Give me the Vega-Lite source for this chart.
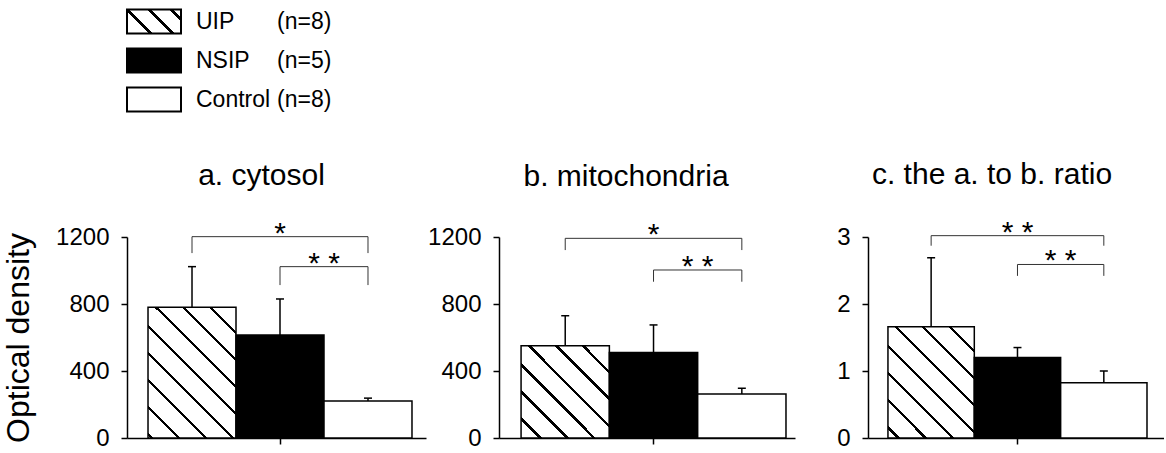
{
  "$schema": "https://vega.github.io/schema/vega-lite/v6.json",
  "padding": {"left": 2, "top": 2, "right": 0, "bottom": 5},
  "background": "white",
  "config": {
    "font": "Liberation Sans",
    "view": {"stroke": null},
    "axis": {"labelFont": "Liberation Sans", "labelFontSize": 24, "labelColor": "black", "domainColor": "black", "tickColor": "black", "domainWidth": 1.5, "tickWidth": 1.5, "tickSize": 6, "labelPadding": 12, "grid": false, "titleFont": "Liberation Sans", "titleFontWeight": "normal", "titleColor": "black"},
    "title": {"font": "Liberation Sans", "fontSize": 30, "fontWeight": "normal", "color": "black", "baseline": "alphabetic", "offset": 28, "frame": "group"},
    "text": {"font": "Liberation Sans", "color": "black"}
  },
  "datasets": {
    "bars": [
      {"p": "a", "g": "UIP", "v": 780, "hi": 1023},
      {"p": "a", "g": "NSIP", "v": 615, "hi": 830},
      {"p": "a", "g": "Control", "v": 221, "hi": 238},
      {"p": "b", "g": "UIP", "v": 551, "hi": 730},
      {"p": "b", "g": "NSIP", "v": 511, "hi": 675},
      {"p": "b", "g": "Control", "v": 263, "hi": 297},
      {"p": "c", "g": "UIP", "v": 1.66, "hi": 2.69},
      {"p": "c", "g": "NSIP", "v": 1.2, "hi": 1.35},
      {"p": "c", "g": "Control", "v": 0.825, "hi": 1.0}
    ],
    "brk": [
      {"p": "a", "k": 1, "g": "UIP", "v": 1202, "v2": 1104},
      {"p": "a", "k": 1, "g": "Control", "v": 1202, "v2": 1104},
      {"p": "a", "k": 2, "g": "NSIP", "v": 1023, "v2": 913},
      {"p": "a", "k": 2, "g": "Control", "v": 1023, "v2": 913},
      {"p": "b", "k": 1, "g": "UIP", "v": 1192, "v2": 1122},
      {"p": "b", "k": 1, "g": "Control", "v": 1192, "v2": 1122},
      {"p": "b", "k": 2, "g": "NSIP", "v": 1003, "v2": 933},
      {"p": "b", "k": 2, "g": "Control", "v": 1003, "v2": 933},
      {"p": "c", "k": 1, "g": "UIP", "v": 3.02, "v2": 2.87},
      {"p": "c", "k": 1, "g": "Control", "v": 3.02, "v2": 2.87},
      {"p": "c", "k": 2, "g": "NSIP", "v": 2.59, "v2": 2.42},
      {"p": "c", "k": 2, "g": "Control", "v": 2.59, "v2": 2.42}
    ],
    "lab": [
      {"p": "a", "k": 1, "g": "NSIP", "v": 1202, "t": "*"},
      {"p": "a", "k": 2, "g": "NSIP", "v": 1023, "t": "* *"},
      {"p": "b", "k": 1, "g": "NSIP", "v": 1192, "t": "*"},
      {"p": "b", "k": 2, "g": "NSIP", "v": 1003, "t": "* *"},
      {"p": "c", "k": 1, "g": "NSIP", "v": 3.02, "t": "* *"},
      {"p": "c", "k": 2, "g": "NSIP", "v": 2.59, "t": "* *"}
    ],
    "leg": [
      {"g": "UIP", "n": "(n=8)"},
      {"g": "NSIP", "n": "(n=5)"},
      {"g": "Control", "n": "(n=8)"}
    ]
  },
  "spacing": 118,
  "bounds": "flush",
  "vconcat": [
    {
      "width": 299,
      "height": 117,
      "data": {"name": "leg"},
      "encoding": {"y": {"field": "g", "type": "nominal", "scale": {"domain": ["UIP", "NSIP", "Control"], "paddingInner": 0.385, "paddingOuter": 0.1925}, "axis": null}},
      "layer": [
        {
          "mark": {"type": "rect", "stroke": "black", "strokeWidth": 2},
          "encoding": {
            "x": {"datum": 0, "type": "quantitative", "scale": {"domain": [0, 299], "nice": false}, "axis": null},
            "x2": {"datum": 54},
            "fill": {
              "condition": [
                {"test": "datum.g === 'UIP'", "value": {"gradient": "linear", "x1": 0, "y1": 1, "x2": 1.25, "y2": 0.444, "stops": [
                  {"offset": 0, "color": "white"},
                  {"offset": 0.277, "color": "white"}, {"offset": 0.277, "color": "black"}, {"offset": 0.317, "color": "black"}, {"offset": 0.317, "color": "white"},
                  {"offset": 0.549, "color": "white"}, {"offset": 0.549, "color": "black"}, {"offset": 0.589, "color": "black"}, {"offset": 0.589, "color": "white"},
                  {"offset": 0.822, "color": "white"}, {"offset": 0.822, "color": "black"}, {"offset": 0.862, "color": "black"}, {"offset": 0.862, "color": "white"},
                  {"offset": 1, "color": "white"}
                ]}},
                {"test": "datum.g === 'NSIP'", "value": "black"}
              ],
              "value": "white"
            }
          }
        },
        {
          "mark": {"type": "text", "align": "left", "baseline": "middle", "fontSize": 23},
          "encoding": {"x": {"datum": 69, "type": "quantitative"}, "text": {"field": "g"}}
        },
        {
          "mark": {"type": "text", "align": "left", "baseline": "middle", "fontSize": 23},
          "encoding": {"x": {"datum": 150, "type": "quantitative"}, "text": {"field": "n"}}
        }
      ]
    },
    {
      "hconcat": [
        {
          "width": 299,
          "height": 201,
          "title": {"text": "a. cytosol", "dx": -15},
          "layer": [
            {
              "data": {"name": "bars"},
              "transform": [{"filter": "datum.p === 'a'"}],
              "mark": {"type": "bar", "stroke": "black", "strokeWidth": 1.5},
              "encoding": {
                "x": {"field": "g", "type": "nominal", "scale": {"type": "band", "domain": ["UIP", "NSIP", "Control"], "paddingInner": 0, "paddingOuter": 0.199, "align": 0.6}, "axis": {"values": ["NSIP"], "labels": false, "title": null}},
                "y": {"field": "v", "type": "quantitative", "scale": {"domain": [0, 1200], "nice": false}, "axis": {"values": [0, 200, 400, 600, 800, 1000, 1200], "labelExpr": "datum.value % 400 === 0 ? '' + datum.value : ''", "title": "Optical density", "titleFontSize": 32, "titlePadding": 20}},
                "fill": {
                  "condition": [
                    {"test": "datum.g === 'UIP'", "value": {"gradient": "linear", "x1": 0, "y1": 1, "x2": 1, "y2": -0.489, "stops": [
                      {"offset": 0, "color": "white"},
                      {"offset": 0.0081, "color": "white"}, {"offset": 0.0081, "color": "black"}, {"offset": 0.0201, "color": "black"}, {"offset": 0.0201, "color": "white"},
                      {"offset": 0.1035, "color": "white"}, {"offset": 0.1035, "color": "black"}, {"offset": 0.1155, "color": "black"}, {"offset": 0.1155, "color": "white"},
                      {"offset": 0.1989, "color": "white"}, {"offset": 0.1989, "color": "black"}, {"offset": 0.2109, "color": "black"}, {"offset": 0.2109, "color": "white"},
                      {"offset": 0.2944, "color": "white"}, {"offset": 0.2944, "color": "black"}, {"offset": 0.3064, "color": "black"}, {"offset": 0.3064, "color": "white"},
                      {"offset": 0.3898, "color": "white"}, {"offset": 0.3898, "color": "black"}, {"offset": 0.4018, "color": "black"}, {"offset": 0.4018, "color": "white"},
                      {"offset": 0.4852, "color": "white"}, {"offset": 0.4852, "color": "black"}, {"offset": 0.4972, "color": "black"}, {"offset": 0.4972, "color": "white"},
                      {"offset": 0.5806, "color": "white"}, {"offset": 0.5806, "color": "black"}, {"offset": 0.5926, "color": "black"}, {"offset": 0.5926, "color": "white"},
                      {"offset": 0.676, "color": "white"}, {"offset": 0.676, "color": "black"}, {"offset": 0.688, "color": "black"}, {"offset": 0.688, "color": "white"},
                      {"offset": 1, "color": "white"}
                    ]}},
                    {"test": "datum.g === 'NSIP'", "value": "black"}
                  ],
                  "value": "white"
                }
              }
            },
            {
              "data": {"name": "bars"},
              "transform": [{"filter": "datum.p === 'a'"}],
              "mark": {"type": "rule", "color": "black", "strokeWidth": 1.5},
              "encoding": {"x": {"field": "g", "type": "nominal"}, "y": {"field": "v", "type": "quantitative"}, "y2": {"field": "hi"}}
            },
            {
              "data": {"name": "bars"},
              "transform": [{"filter": "datum.p === 'a'"}],
              "mark": {"type": "tick", "orient": "horizontal", "size": 8, "thickness": 1.5, "color": "black", "opacity": 1},
              "encoding": {"x": {"field": "g", "type": "nominal"}, "y": {"field": "hi", "type": "quantitative"}}
            },
            {
              "data": {"name": "brk"},
              "transform": [{"filter": "datum.p === 'a'"}],
              "mark": {"type": "line", "color": "#333", "strokeWidth": 1},
              "encoding": {"x": {"field": "g", "type": "nominal"}, "y": {"field": "v", "type": "quantitative"}, "detail": {"field": "k"}}
            },
            {
              "data": {"name": "brk"},
              "transform": [{"filter": "datum.p === 'a'"}],
              "mark": {"type": "rule", "color": "#333", "strokeWidth": 1},
              "encoding": {"x": {"field": "g", "type": "nominal"}, "y": {"field": "v", "type": "quantitative"}, "y2": {"field": "v2"}}
            },
            {
              "data": {"name": "lab"},
              "transform": [{"filter": "datum.p === 'a' && datum.k === 1"}],
              "mark": {"type": "text", "fontSize": 30, "baseline": "alphabetic", "dy": 6},
              "encoding": {"x": {"field": "g", "type": "nominal"}, "y": {"field": "v", "type": "quantitative"}, "text": {"field": "t"}}
            },
            {
              "data": {"name": "lab"},
              "transform": [{"filter": "datum.p === 'a' && datum.k === 2"}],
              "mark": {"type": "text", "fontSize": 30, "baseline": "alphabetic", "dy": 6},
              "encoding": {"x": {"field": "g", "type": "nominal", "bandPosition": 1}, "y": {"field": "v", "type": "quantitative"}, "text": {"field": "t"}}
            }
          ]
        },
        {
          "width": 296,
          "height": 201,
          "title": {"text": "b. mitochondria", "dx": -21},
          "layer": [
            {
              "data": {"name": "bars"},
              "transform": [{"filter": "datum.p === 'b'"}],
              "mark": {"type": "bar", "stroke": "black", "strokeWidth": 1.5},
              "encoding": {
                "x": {"field": "g", "type": "nominal", "scale": {"type": "band", "domain": ["UIP", "NSIP", "Control"], "paddingInner": 0, "paddingOuter": 0.176, "align": 0.71}, "axis": {"values": ["NSIP"], "labels": false, "title": null}},
                "y": {"field": "v", "type": "quantitative", "scale": {"domain": [0, 1200], "nice": false}, "axis": {"values": [0, 200, 400, 600, 800, 1000, 1200], "labelExpr": "datum.value % 400 === 0 ? '' + datum.value : ''", "title": null}},
                "fill": {
                  "condition": [
                    {"test": "datum.g === 'UIP'", "value": {"gradient": "linear", "x1": 0, "y1": 1, "x2": 1, "y2": -0.045, "stops": [
                      {"offset": 0, "color": "white"},
                      {"offset": 0.0954, "color": "white"}, {"offset": 0.0954, "color": "black"}, {"offset": 0.1134, "color": "black"}, {"offset": 0.1134, "color": "white"},
                      {"offset": 0.2415, "color": "white"}, {"offset": 0.2415, "color": "black"}, {"offset": 0.2595, "color": "black"}, {"offset": 0.2595, "color": "white"},
                      {"offset": 0.3876, "color": "white"}, {"offset": 0.3876, "color": "black"}, {"offset": 0.4056, "color": "black"}, {"offset": 0.4056, "color": "white"},
                      {"offset": 0.5337, "color": "white"}, {"offset": 0.5337, "color": "black"}, {"offset": 0.5517, "color": "black"}, {"offset": 0.5517, "color": "white"},
                      {"offset": 0.6799, "color": "white"}, {"offset": 0.6799, "color": "black"}, {"offset": 0.6979, "color": "black"}, {"offset": 0.6979, "color": "white"},
                      {"offset": 0.826, "color": "white"}, {"offset": 0.826, "color": "black"}, {"offset": 0.844, "color": "black"}, {"offset": 0.844, "color": "white"},
                      {"offset": 1, "color": "white"}
                    ]}},
                    {"test": "datum.g === 'NSIP'", "value": "black"}
                  ],
                  "value": "white"
                }
              }
            },
            {
              "data": {"name": "bars"},
              "transform": [{"filter": "datum.p === 'b'"}],
              "mark": {"type": "rule", "color": "black", "strokeWidth": 1.5},
              "encoding": {"x": {"field": "g", "type": "nominal"}, "y": {"field": "v", "type": "quantitative"}, "y2": {"field": "hi"}}
            },
            {
              "data": {"name": "bars"},
              "transform": [{"filter": "datum.p === 'b'"}],
              "mark": {"type": "tick", "orient": "horizontal", "size": 8, "thickness": 1.5, "color": "black", "opacity": 1},
              "encoding": {"x": {"field": "g", "type": "nominal"}, "y": {"field": "hi", "type": "quantitative"}}
            },
            {
              "data": {"name": "brk"},
              "transform": [{"filter": "datum.p === 'b'"}],
              "mark": {"type": "line", "color": "#333", "strokeWidth": 1},
              "encoding": {"x": {"field": "g", "type": "nominal"}, "y": {"field": "v", "type": "quantitative"}, "detail": {"field": "k"}}
            },
            {
              "data": {"name": "brk"},
              "transform": [{"filter": "datum.p === 'b'"}],
              "mark": {"type": "rule", "color": "#333", "strokeWidth": 1},
              "encoding": {"x": {"field": "g", "type": "nominal"}, "y": {"field": "v", "type": "quantitative"}, "y2": {"field": "v2"}}
            },
            {
              "data": {"name": "lab"},
              "transform": [{"filter": "datum.p === 'b' && datum.k === 1"}],
              "mark": {"type": "text", "fontSize": 30, "baseline": "alphabetic", "dy": 6},
              "encoding": {"x": {"field": "g", "type": "nominal"}, "y": {"field": "v", "type": "quantitative"}, "text": {"field": "t"}}
            },
            {
              "data": {"name": "lab"},
              "transform": [{"filter": "datum.p === 'b' && datum.k === 2"}],
              "mark": {"type": "text", "fontSize": 30, "baseline": "alphabetic", "dy": 6},
              "encoding": {"x": {"field": "g", "type": "nominal", "bandPosition": 1}, "y": {"field": "v", "type": "quantitative"}, "text": {"field": "t"}}
            }
          ]
        },
        {
          "width": 296,
          "height": 201,
          "title": {"text": "c. the a. to b. ratio", "dx": -24},
          "layer": [
            {
              "data": {"name": "bars"},
              "transform": [{"filter": "datum.p === 'c'"}],
              "mark": {"type": "bar", "stroke": "black", "strokeWidth": 1.5},
              "encoding": {
                "x": {"field": "g", "type": "nominal", "scale": {"type": "band", "domain": ["UIP", "NSIP", "Control"], "paddingInner": 0, "paddingOuter": 0.214, "align": 0.54}, "axis": {"values": ["NSIP"], "labels": false, "title": null}},
                "y": {"field": "v", "type": "quantitative", "scale": {"domain": [0, 3], "nice": false}, "axis": {"values": [0, 0.25, 0.5, 0.75, 1, 1.25, 1.5, 1.75, 2, 2.25, 2.5, 2.75, 3], "labelExpr": "datum.value % 1 === 0 ? '' + datum.value : ''", "title": null}},
                "fill": {
                  "condition": [
                    {"test": "datum.g === 'UIP'", "value": {"gradient": "linear", "x1": 0, "y1": 1, "x2": 1, "y2": -0.283, "stops": [
                      {"offset": 0, "color": "white"},
                      {"offset": 0.0394, "color": "white"}, {"offset": 0.0394, "color": "black"}, {"offset": 0.0544, "color": "black"}, {"offset": 0.0544, "color": "white"},
                      {"offset": 0.1576, "color": "white"}, {"offset": 0.1576, "color": "black"}, {"offset": 0.1726, "color": "black"}, {"offset": 0.1726, "color": "white"},
                      {"offset": 0.2759, "color": "white"}, {"offset": 0.2759, "color": "black"}, {"offset": 0.2909, "color": "black"}, {"offset": 0.2909, "color": "white"},
                      {"offset": 0.3942, "color": "white"}, {"offset": 0.3942, "color": "black"}, {"offset": 0.4092, "color": "black"}, {"offset": 0.4092, "color": "white"},
                      {"offset": 0.5124, "color": "white"}, {"offset": 0.5124, "color": "black"}, {"offset": 0.5274, "color": "black"}, {"offset": 0.5274, "color": "white"},
                      {"offset": 0.6307, "color": "white"}, {"offset": 0.6307, "color": "black"}, {"offset": 0.6457, "color": "black"}, {"offset": 0.6457, "color": "white"},
                      {"offset": 0.749, "color": "white"}, {"offset": 0.749, "color": "black"}, {"offset": 0.764, "color": "black"}, {"offset": 0.764, "color": "white"},
                      {"offset": 1, "color": "white"}
                    ]}},
                    {"test": "datum.g === 'NSIP'", "value": "black"}
                  ],
                  "value": "white"
                }
              }
            },
            {
              "data": {"name": "bars"},
              "transform": [{"filter": "datum.p === 'c'"}],
              "mark": {"type": "rule", "color": "black", "strokeWidth": 1.5},
              "encoding": {"x": {"field": "g", "type": "nominal"}, "y": {"field": "v", "type": "quantitative"}, "y2": {"field": "hi"}}
            },
            {
              "data": {"name": "bars"},
              "transform": [{"filter": "datum.p === 'c'"}],
              "mark": {"type": "tick", "orient": "horizontal", "size": 8, "thickness": 1.5, "color": "black", "opacity": 1},
              "encoding": {"x": {"field": "g", "type": "nominal"}, "y": {"field": "hi", "type": "quantitative"}}
            },
            {
              "data": {"name": "brk"},
              "transform": [{"filter": "datum.p === 'c'"}],
              "mark": {"type": "line", "color": "#333", "strokeWidth": 1},
              "encoding": {"x": {"field": "g", "type": "nominal"}, "y": {"field": "v", "type": "quantitative"}, "detail": {"field": "k"}}
            },
            {
              "data": {"name": "brk"},
              "transform": [{"filter": "datum.p === 'c'"}],
              "mark": {"type": "rule", "color": "#333", "strokeWidth": 1},
              "encoding": {"x": {"field": "g", "type": "nominal"}, "y": {"field": "v", "type": "quantitative"}, "y2": {"field": "v2"}}
            },
            {
              "data": {"name": "lab"},
              "transform": [{"filter": "datum.p === 'c' && datum.k === 1"}],
              "mark": {"type": "text", "fontSize": 30, "baseline": "alphabetic", "dy": 6},
              "encoding": {"x": {"field": "g", "type": "nominal"}, "y": {"field": "v", "type": "quantitative"}, "text": {"field": "t"}}
            },
            {
              "data": {"name": "lab"},
              "transform": [{"filter": "datum.p === 'c' && datum.k === 2"}],
              "mark": {"type": "text", "fontSize": 30, "baseline": "alphabetic", "dy": 6},
              "encoding": {"x": {"field": "g", "type": "nominal", "bandPosition": 1}, "y": {"field": "v", "type": "quantitative"}, "text": {"field": "t"}}
            }
          ]
        }
      ],
      "spacing": 73,
      "bounds": "flush"
    }
  ]
}
